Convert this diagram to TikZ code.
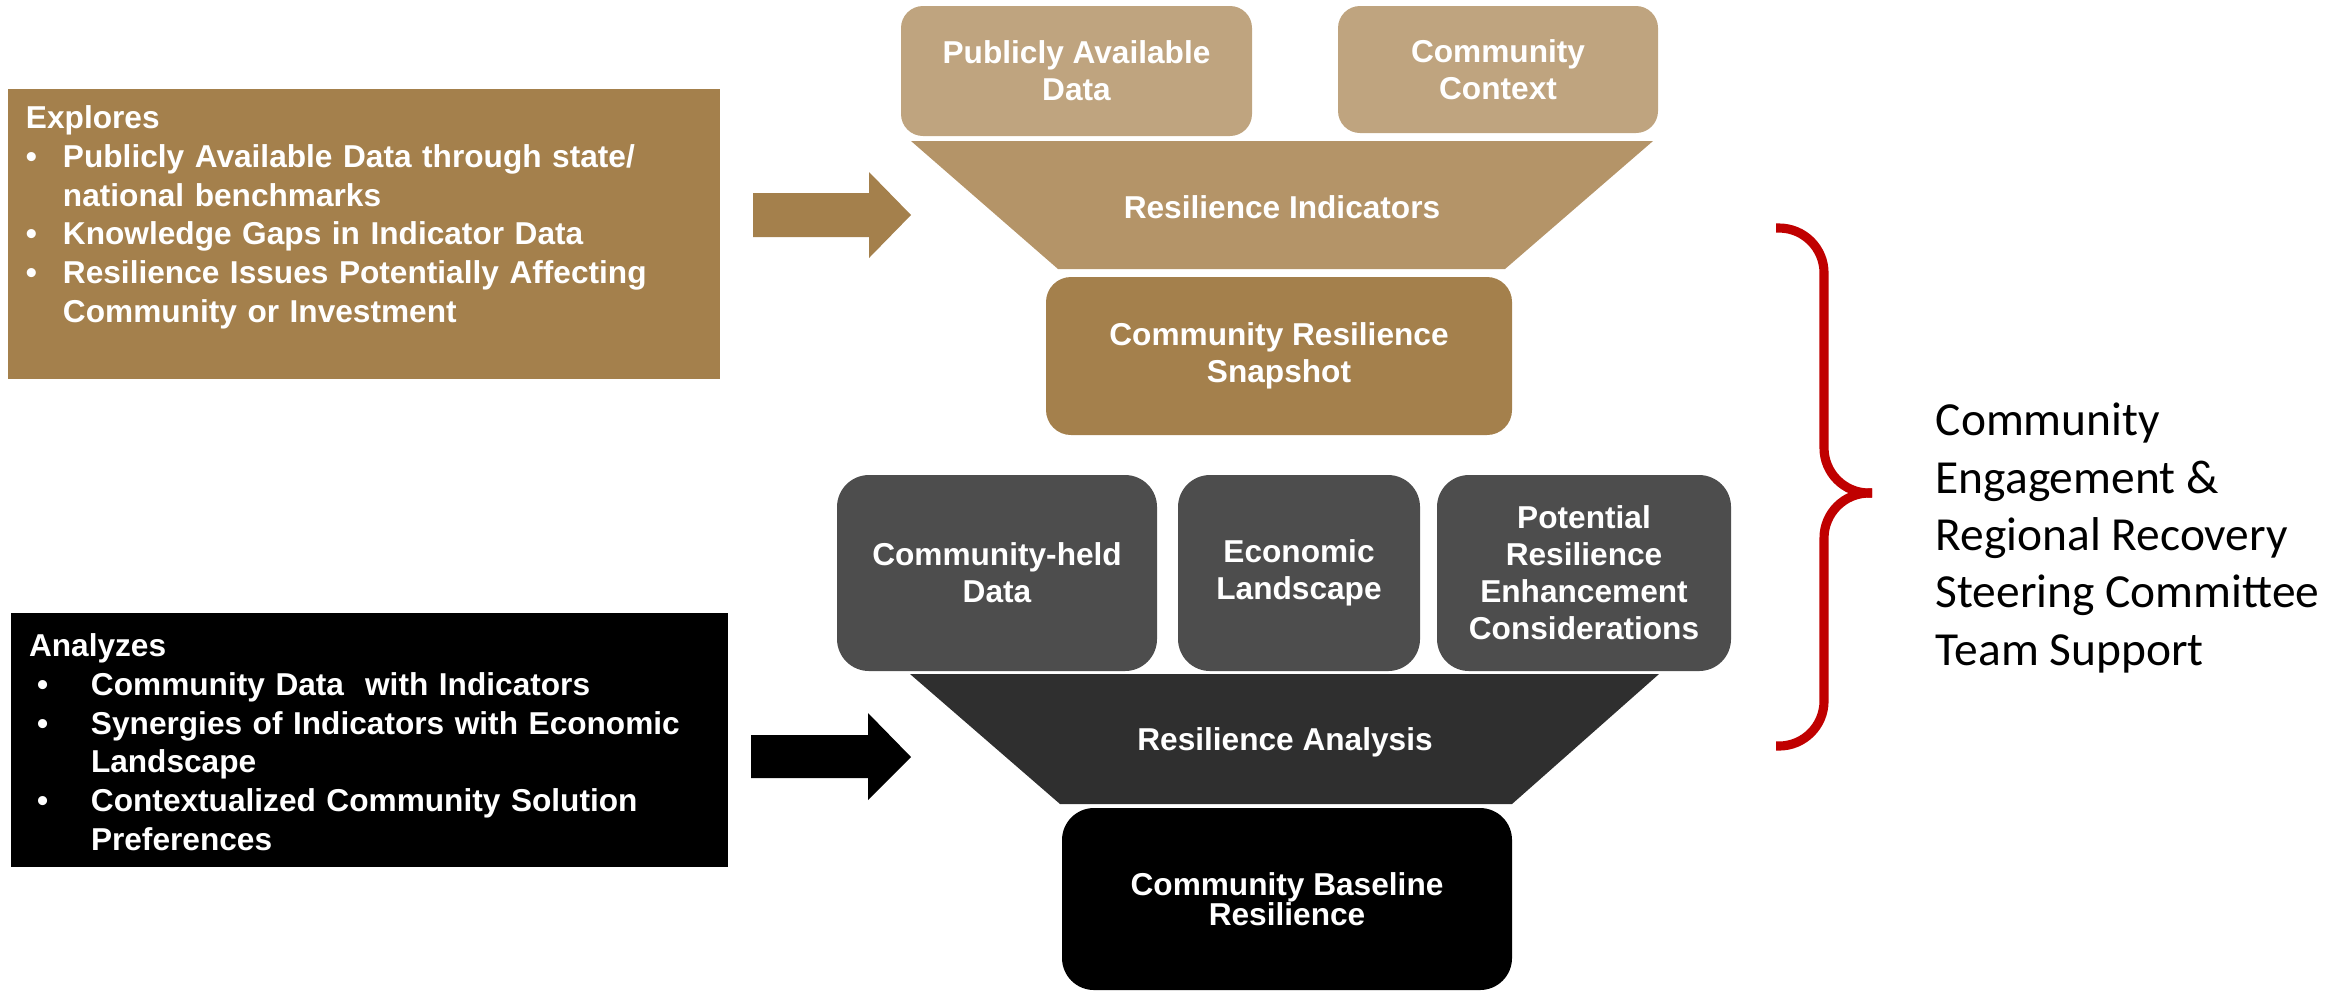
\documentclass[tikz,border=0pt]{standalone}
\usepackage{fontspec}
\setmainfont{Liberation Sans}
\newfontfamily\calibri{Carlito}
\usetikzlibrary{positioning}

\definecolor{goldbrown}{HTML}{A4804C}
\definecolor{lighttan}{HTML}{BFA47F}
\definecolor{midtan}{HTML}{B49468}
\definecolor{tilegray}{HTML}{4D4D4D}
\definecolor{funnelgray}{HTML}{2F2F2F}
\definecolor{bracered}{HTML}{C00000}

% bullet item: #1 hang, #2 bullet shift, #3 text (\nl breaks inside the item)
\newcommand{\bitem}[3]{\par\hangindent=#1\hangafter=1\noindent\makebox[#1][l]{\hspace{#2}\textbullet}\ignorespaces#3}
\newcommand{\nl}{\hfil\break}

\begin{document}
\begin{tikzpicture}[
	boxtext/.style={text=white, font=\bfseries\fontsize{9}{10.5}\selectfont, align=center, inner sep=0pt},
	tile/.style={boxtext, rectangle, rounded corners=#1},
	listtext/.style={text=white, font=\bfseries\fontsize{9}{11}\selectfont, align=left, text width=6.9cm, inner sep=0pt}
	]
	\useasboundingbox (0,0) rectangle (23.51,-9.92);

	% left boxes
	\node[fill=goldbrown, minimum width=7.12cm, minimum height=2.90cm] (explores) at (3.64,-2.34) {};
	\node[listtext, below right=0.17cm and 0.18cm of explores.north west] (explorestxt) {\noindent Explores
		\bitem{0.37cm}{0cm}{Publicly Available Data through state/\nl national benchmarks}
		\bitem{0.37cm}{0cm}{Knowledge Gaps in Indicator Data}
		\bitem{0.37cm}{0cm}{Resilience Issues Potentially Affecting\nl Community or Investment}\par};

	\node[fill=black, minimum width=7.17cm, minimum height=2.54cm] (analyzes) at (3.695,-7.40) {};
	\node[listtext, below right=0.21cm and 0.18cm of analyzes.north west] (analyzestxt) {\noindent Analyzes
		\bitem{0.62cm}{0.08cm}{Community Data\ \ with Indicators}
		\bitem{0.62cm}{0.08cm}{Synergies of Indicators with Economic\nl Landscape}
		\bitem{0.62cm}{0.08cm}{Contextualized Community Solution\nl Preferences}\par};

	% block arrows
	\fill[goldbrown] (7.53,-1.93) -- (8.69,-1.93) -- (8.69,-1.72) -- (9.11,-2.15) -- (8.69,-2.58) -- (8.69,-2.37) -- (7.53,-2.37) -- cycle;
	\fill[black] (7.51,-7.35) -- (8.68,-7.35) -- (8.68,-7.13) -- (9.11,-7.57) -- (8.68,-8.00) -- (8.68,-7.78) -- (7.51,-7.78) -- cycle;

	% upper funnel
	\node[tile=0.22cm, fill=lighttan, minimum width=3.51cm, minimum height=1.30cm] (pubdata) at (10.765,-0.71) {Publicly Available\\Data};
	\node[tile=0.22cm, fill=lighttan, minimum width=3.20cm, minimum height=1.27cm] (context) at (14.98,-0.695) {Community\\Context};
	\fill[midtan] (9.11,-1.41) -- (16.53,-1.41) -- (15.05,-2.69) -- (10.58,-2.69) -- cycle;
	\node[boxtext] (indicators) at (12.82,-2.07) {Resilience Indicators};
	\node[tile=0.25cm, fill=goldbrown, minimum width=4.66cm, minimum height=1.58cm] (snapshot) at (12.79,-3.56) {Community Resilience\\Snapshot};

	% lower funnel
	\node[tile=0.32cm, fill=tilegray, minimum width=3.20cm, minimum height=1.96cm] (heldata) at (9.97,-5.73) {Community-held\\Data};
	\node[tile=0.32cm, fill=tilegray, minimum width=2.42cm, minimum height=1.96cm] (economic) at (12.99,-5.73) {Economic\\Landscape};
	\node[tile=0.32cm, fill=tilegray, minimum width=2.94cm, minimum height=1.96cm] (enhance) at (15.84,-5.73) {Potential\\Resilience\\Enhancement\\Considerations};
	\fill[funnelgray] (9.10,-6.74) -- (16.59,-6.74) -- (15.12,-8.04) -- (10.60,-8.04) -- cycle;
	\node[boxtext] (analysis) at (12.85,-7.42) {Resilience Analysis};
	\node[tile=0.32cm, fill=black, minimum width=4.50cm, minimum height=1.82cm, font=\bfseries\fontsize{9}{8.5}\selectfont] (baseline) at (12.87,-8.99) {Community Baseline\\Resilience};

	% brace and support text
	\draw[bracered, line width=2.6pt, rounded corners=0.45cm] (17.76,-2.28) -- (18.24,-2.28) -- (18.24,-4.93) -- (18.72,-4.93);
	\draw[bracered, line width=2.6pt, rounded corners=0.45cm] (17.76,-7.46) -- (18.24,-7.46) -- (18.24,-4.93) -- (18.72,-4.93);
	\node[font=\calibri\fontsize{13.5}{16.3}\selectfont, align=left, anchor=west, inner sep=0pt] (support) at (19.35,-5.38) {Community\\Engagement \&\\Regional Recovery\\Steering Committee\\Team Support};
\end{tikzpicture}
\end{document}
